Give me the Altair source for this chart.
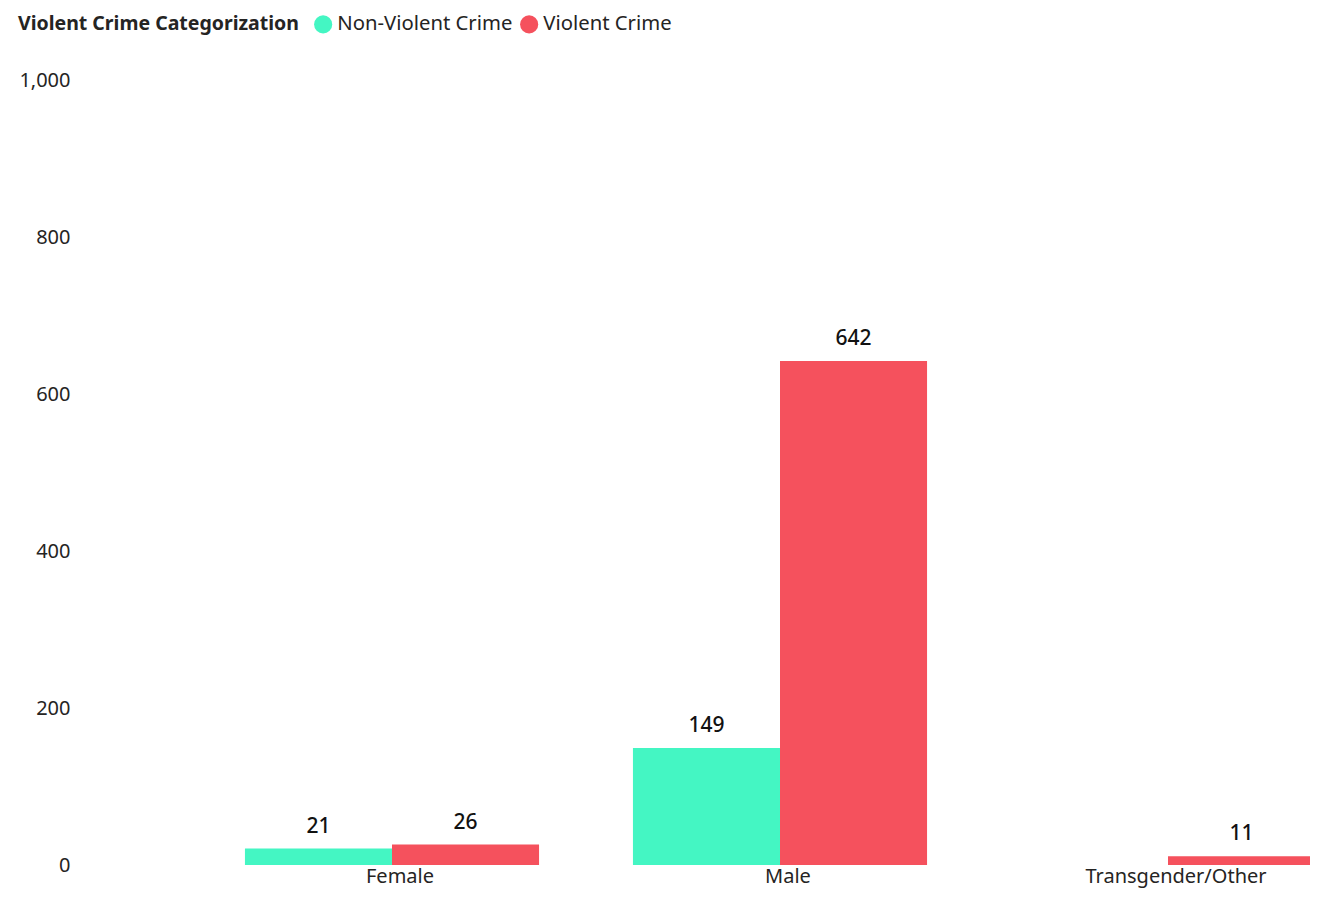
import altair as alt
import pandas as pd

genders = ["Female", "Female", "Male", "Male", "Transgender/Other"]
categories = ["Non-Violent Crime", "Violent Crime", "Non-Violent Crime", "Violent Crime", "Violent Crime"]
counts = [21, 26, 149, 642, 11]

gender_order = ["Female", "Male", "Transgender/Other"]
cat_order = ["Non-Violent Crime", "Violent Crime"]
colors = ["#44F6C3", "#F5515D"]
y_ticks = [0, 200, 400, 600, 800, 1000]

df = pd.DataFrame({"Gender": genders, "Category": categories, "Count": counts})

FONT = "Segoe UI, Noto Sans, Open Sans, sans-serif"

x_scale = alt.Scale(domain=gender_order, range=[118, 1282], paddingInner=0.242, paddingOuter=0.121)
y_scale = alt.Scale(domain=[0, 1000], nice=False)

x_enc = alt.X(
    "Gender:N",
    sort=gender_order,
    scale=x_scale,
    axis=alt.Axis(title=None, labelAngle=0, domain=False, ticks=False, labelPadding=1,
                  labelOffset=8, labelFontSize=20, labelFont=FONT, labelColor="#252423",
                  labelLimit=400),
)
xo_enc = alt.XOffset("Category:N", sort=cat_order,
                     scale=alt.Scale(domain=cat_order, paddingInner=0, paddingOuter=0))
y_enc = alt.Y(
    "Count:Q",
    scale=y_scale,
    axis=alt.Axis(title=None, values=y_ticks, format=",d", grid=False, domain=False, ticks=False,
                  labelPadding=10, labelFontSize=20, labelFont=FONT, labelColor="#252423",
                  minExtent=72, maxExtent=72),
)

bars = alt.Chart(df).mark_bar().encode(
    x=x_enc,
    xOffset=xo_enc,
    y=y_enc,
    color=alt.Color(
        "Category:N",
        scale=alt.Scale(domain=cat_order, range=colors),
        legend=alt.Legend(
            title="Violent Crime Categorization", orient="none", legendX=-62, legendY=-66,
            direction="horizontal", titleOrient="left", titleFontSize=19.5, titleFont=FONT,
            titleFontWeight="bold", titleColor="#252423", titleLimit=600,
            labelFontSize=20.3, labelFont=FONT, labelLimit=400,
            labelColor="#252423", symbolType="circle", symbolSize=330, symbolStrokeWidth=0,
            symbolOpacity=1, columnPadding=6, labelOffset=4, titlePadding=14, padding=0,
        ),
    ),
)

labels = alt.Chart(df).mark_text(
    baseline="alphabetic", dy=-16, fontSize=21, fontWeight=500, font=FONT, color="#111111"
).encode(
    x=alt.X("Gender:N", sort=gender_order, scale=x_scale),
    xOffset=xo_enc,
    y=alt.Y("Count:Q", scale=y_scale),
    text=alt.Text("Count:Q"),
)

chart = (
    alt.layer(bars, labels)
    .properties(
        width=1230,
        height=785,
        autosize=alt.AutoSizeParams(type="none"),
        padding={"left": 72, "top": 72, "right": 0, "bottom": 26},
    )
    .configure_view(stroke=None)
)

chart.save("out.html", embed_options={"renderer": "svg", "actions": False})
